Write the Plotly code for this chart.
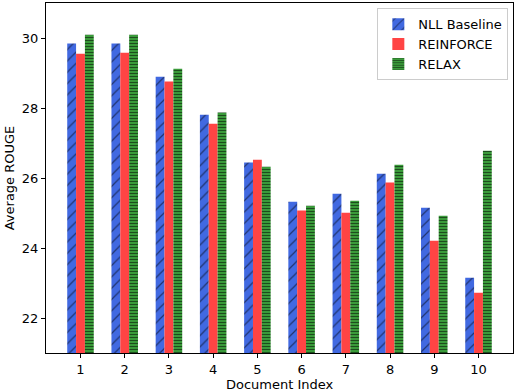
import plotly.graph_objects as go

docs = [1, 2, 3, 4, 5, 6, 7, 8, 9, 10]
nll = [29.84, 29.84, 28.89, 27.81, 26.44, 25.32, 25.55, 26.12, 25.15, 23.15]
reinforce = [29.55, 29.58, 28.76, 27.55, 26.52, 25.07, 25.01, 25.87, 24.21, 22.72]
relax = [30.09, 30.09, 29.12, 27.87, 26.32, 25.21, 25.35, 26.38, 24.92, 26.78]

fig = go.Figure()
fig.add_trace(go.Bar(
    x=docs, y=nll, name="NLL Baseline",
    marker=dict(color="#4169E1", line=dict(width=0),
                pattern=dict(shape="/", fgcolor="black", bgcolor="#4169E1", size=8, solidity=0.15)),
))
fig.add_trace(go.Bar(
    x=docs, y=reinforce, name="REINFORCE",
    marker=dict(color="#FF4444", line=dict(width=0)),
))
fig.add_trace(go.Bar(
    x=docs, y=relax, name="RELAX",
    marker=dict(color="#3A9A3A", line=dict(width=0),
                pattern=dict(shape="-", fgcolor="black", bgcolor="#3A9A3A", size=3, solidity=0.34)),
))

fig.update_layout(
    width=520, height=392,
    margin=dict(l=46, r=7, t=3, b=39),
    paper_bgcolor="white", plot_bgcolor="white",
    barmode="group", bargap=0.4, bargroupgap=0,
    font=dict(family="DejaVu Sans", size=13, color="black"),
    legend=dict(x=0.99, y=0.985, xanchor="right", yanchor="top",
                bgcolor="rgba(255,255,255,0.8)", bordercolor="#cccccc", borderwidth=1,
                font=dict(size=13), itemwidth=30, tracegroupgap=0),
    showlegend=True,
    annotations=[dict(text="Document Index", x=0.5, y=0, xref="paper", yref="paper",
                      xanchor="center", yanchor="top", yshift=-22, showarrow=False,
                      font=dict(family="DejaVu Sans", size=13, color="black"))],
)
fig.update_xaxes(
    range=[0.22, 10.78], tickmode="array", tickvals=docs, ticktext=[str(d) for d in docs],
    showline=True, linecolor="black", linewidth=1, mirror=True, automargin=False,
    ticks="outside", ticklen=4, tickcolor="black", showgrid=False, zeroline=False,
)
fig.update_yaxes(
    range=[21, 31], tickmode="array", tickvals=[22, 24, 26, 28, 30],
    showline=True, linecolor="black", linewidth=1, mirror=True, automargin=False,
    ticks="outside", ticklen=4, tickcolor="black", showgrid=False, zeroline=False,
    title=dict(text="Average ROUGE", standoff=4, font=dict(size=13)),
)

fig.write_html(
    "out.html",
    config={"displayModeBar": False},
    post_script="document.body.style.margin='0';document.body.style.overflow='hidden';",
)
